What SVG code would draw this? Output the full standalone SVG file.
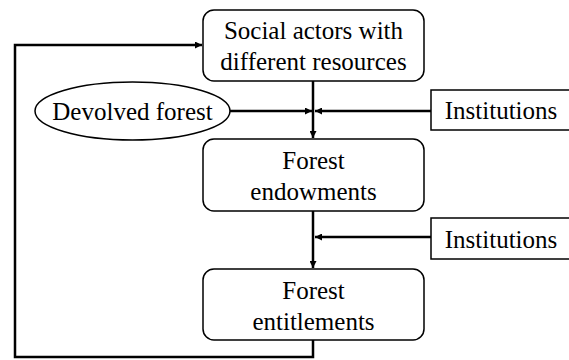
<svg xmlns="http://www.w3.org/2000/svg" width="569" height="360" viewBox="0 0 569 360">
<defs>
<marker id="ah" viewBox="0 0 10 10" refX="10" refY="5" markerWidth="7" markerHeight="7" markerUnits="userSpaceOnUse" orient="auto">
<path d="M0,0 L10,5 L0,10 z" fill="#000"/>
</marker>
</defs>
<style>
.box{fill:#fff;stroke:#000;stroke-width:1.5}
.t{font-family:"Liberation Serif","Times New Roman",serif;font-size:25px;fill:#000;text-anchor:middle}
.c{fill:none;stroke:#000;stroke-width:2.5}
</style>
<rect width="569" height="360" fill="#fff"/>
<g id="connectors">
<path class="c" d="M313,340 V357 H15 V45 H202" marker-end="url(#ah)"/>
<path class="c" d="M313,81 V138" marker-end="url(#ah)"/>
<path class="c" d="M230,111 H312" marker-end="url(#ah)"/>
<path class="c" d="M431,111 H315" marker-end="url(#ah)"/>
<path class="c" d="M313,211 V268" marker-end="url(#ah)"/>
<path class="c" d="M431,237 H315" marker-end="url(#ah)"/>
</g>
<g id="social-actors">
<rect class="box" x="203" y="10" width="221" height="71" rx="11"/>
<text class="t" x="313.5" y="39">Social actors with</text>
<text class="t" x="313.5" y="70">different resources</text>
</g>
<g id="devolved-forest">
<ellipse class="box" cx="132.5" cy="111" rx="97.5" ry="29"/>
<text class="t" x="132.5" y="120">Devolved forest</text>
</g>
<g id="institutions-1">
<rect class="box" x="431" y="90" width="142" height="40"/>
<text class="t" x="501" y="119">Institutions</text>
</g>
<g id="forest-endowments">
<rect class="box" x="203" y="139" width="221" height="72" rx="11"/>
<text class="t" x="313.5" y="169">Forest</text>
<text class="t" x="313.5" y="200">endowments</text>
</g>
<g id="institutions-2">
<rect class="box" x="431" y="218" width="142" height="41"/>
<text class="t" x="501" y="248">Institutions</text>
</g>
<g id="forest-entitlements">
<rect class="box" x="203" y="269" width="221" height="71" rx="11"/>
<text class="t" x="313.5" y="299">Forest</text>
<text class="t" x="313.5" y="330">entitlements</text>
</g>
</svg>
